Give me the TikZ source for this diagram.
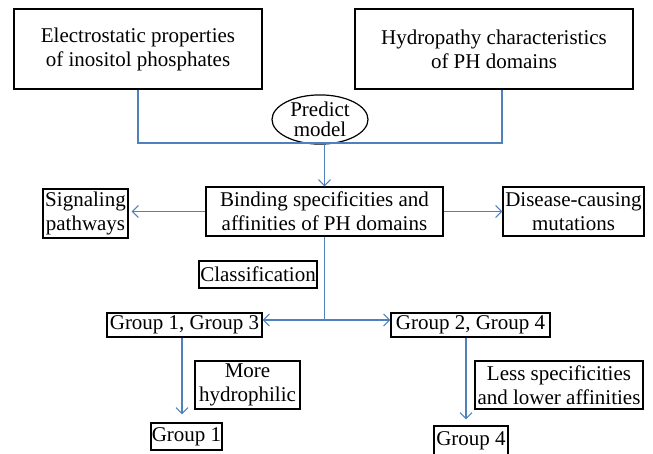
\documentclass[tikz,border=0pt]{standalone}
\usepackage{fontspec}
\setmainfont{Liberation Serif}
\usetikzlibrary{shapes.geometric,arrows.meta}
\definecolor{linkblue}{RGB}{79,129,189}
\begin{document}
\begin{tikzpicture}[
    x=1pt, y=-1pt,
    box/.style={rectangle, draw=black, line width=1.2pt, inner sep=0pt, align=center, font=\fontsize{21}{24}\selectfont},
    oval/.style={ellipse, draw=black, line width=1.2pt, inner sep=0pt, align=center, font=\fontsize{21}{20}\selectfont},
    link/.style={draw=linkblue, line width=1.1pt},
    arrow/.style={link, -{Straight Barb[length=6pt, width=12pt, line width=1.1pt]}}
]
\useasboundingbox (0,0) rectangle (653,453);

% Inputs
\node[box, minimum width=248, minimum height=80] (elec) at (138,49) {Electrostatic properties\\of inositol phosphates};
\node[box, minimum width=278, minimum height=80] (hydro) at (494,49) {Hydropathy characteristics\\of PH domains};
\node[oval, minimum width=96, minimum height=49] (predict) at (320,119.5) {Predict\\model};

% Binding level
\node[box, minimum width=237, minimum height=49] (binding) at (324.5,211.5) {Binding specificities and\\affinities of PH domains};
\node[box, minimum width=85, minimum height=49] (signal) at (85.5,213.5) {Signaling\\pathways};
\node[box, minimum width=141, minimum height=49] (disease) at (573.5,211.5) {Disease-causing\\mutations};

% Classification
\node[box, minimum width=118, minimum height=27] (classif) at (258,274.5) {Classification};
\node[box, minimum width=155, minimum height=24] (grp13) at (184.5,325) {Group 1, Group 3};
\node[box, minimum width=159, minimum height=24] (grp24) at (470.5,325) {Group 2, Group 4};

% Outcomes
\node[box, minimum width=105, minimum height=48] (hydrophil) at (247.5,385) {More\\hydrophilic};
\node[box, minimum width=168, minimum height=48] (lessspec) at (559,385) {Less specificities\\and lower affinities};
\node[box, minimum width=71, minimum height=27] (grp1) at (186.5,436.5) {Group 1};
\node[box, minimum width=74, minimum height=29] (grp4) at (471,440.5) {Group 4};

% Connectors
\coordinate (join) at (324.5,143);
\coordinate (split) at (324.5,320);
\draw[link] (elec.south) |- (join) -| ([xshift=8pt]hydro.south);
\draw[arrow] (join) -- (binding.north);
\draw[arrow, shorten >=3pt] (binding.west) -- (binding.west -| signal.east);
\draw[arrow] (binding.east) -- (binding.east -| disease.west);

\draw[link] (binding.south) -- (split);
\draw[arrow] (split) -- (split -| grp13.east);
\draw[arrow] (split) -- (split -| grp24.west);

\draw[arrow, shorten >=8pt] ([xshift=-2.5pt]grp13.south) -- ([xshift=-2.5pt]grp13.south |- grp1.north);
\draw[arrow, shorten >=6pt] ([xshift=-4.5pt]grp24.south) -- ([xshift=-4.5pt]grp24.south |- grp4.north);

\end{tikzpicture}
\end{document}
